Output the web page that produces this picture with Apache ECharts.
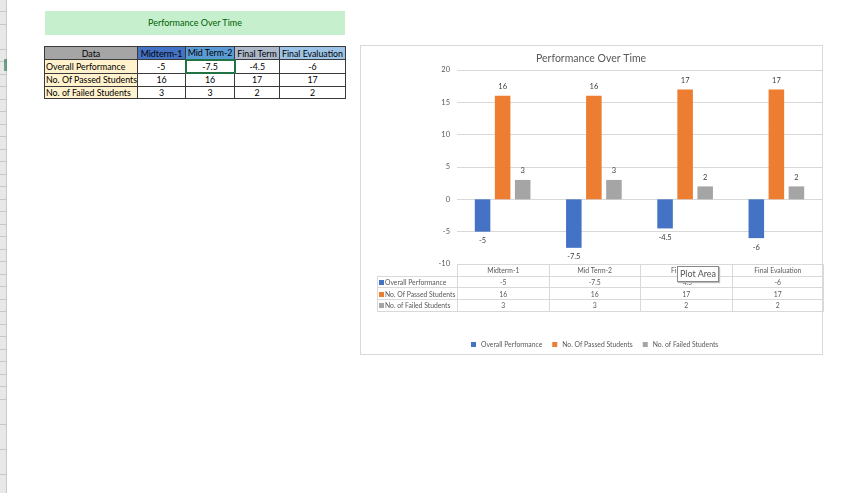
<!DOCTYPE html>
<html><head><meta charset="utf-8">
<script src="https://cdn.jsdelivr.net/npm/echarts/dist/echarts.min.js"></script>
<style>
body{margin:0;width:860px;height:493px;overflow:hidden;background:#fff;font-family:Lato,'Open Sans',sans-serif;position:relative;}
#strip{position:absolute;left:0;top:0;width:6px;height:493px;background:repeating-linear-gradient(to bottom,#e8e8e8 0,#e8e8e8 11.5px,#c8c8c8 11.5px,#c8c8c8 12.5px);border-right:1px solid #c8c8c8;}
#active{position:absolute;left:4px;top:59px;width:3px;height:12px;background:#217346;opacity:.6}
#titlebox{position:absolute;left:45px;top:11px;width:300px;height:24px;background:#c6efce;color:#006100;font-size:9px;line-height:24px;text-align:center;}
#sheet{position:absolute;left:44px;top:46px;border-collapse:collapse;font-size:8.8px;color:#000;table-layout:fixed;width:301px;}
#sheet td{border:1px solid #3a3a3a;height:11.5px;padding:0;line-height:11px;text-align:center;white-space:nowrap;overflow:hidden;}
#sheet td.lab{background:#fff2cc;text-align:left;padding-left:1px;}
#chartbox{position:absolute;left:360px;top:45px;width:463px;height:310px;border:1px solid #d9d9d9;box-sizing:border-box;}
#chart{position:absolute;left:0;top:0;width:860px;height:493px;z-index:1;}
#dtable{position:absolute;left:377px;top:264px;width:446px;border-collapse:collapse;font-size:6.8px;color:#595959;z-index:2;table-layout:fixed;}
#dtable td{border:1px solid #d9d9d9;height:10.7px;padding:0;line-height:10px;text-align:center;white-space:nowrap;overflow:hidden;}
#dtable td.lab{text-align:left;padding-left:1px;}
#dtable td.blank{border-top:none;border-left:none;}
.key{display:inline-block;width:5px;height:5px;margin-right:1px;vertical-align:0px;}
#tip{position:absolute;left:677px;top:266px;width:40px;height:14px;border:1px solid #8a8a8a;background:#fff;font-size:9px;color:#555;line-height:14px;text-align:center;z-index:3;box-shadow:1px 1px 1px #bbb;}
</style></head>
<body>
<div id="strip"></div><div id="active"></div>
<div id="titlebox">Performance Over Time</div>
<table id="sheet"></table>
<div id="chartbox"></div>
<div id="chart"></div>
<table id="dtable"></table>
<div id="tip">Plot Area</div>
<script>
const categories = ['Midterm-1', 'Mid Term-2', 'Final Term', 'Final Evaluation'];
const seriesNames = ['Overall Performance', 'No. Of Passed Students', 'No. of Failed Students'];
const overall = [-5, -7.5, -4.5, -6];
const passed = [16, 16, 17, 17];
const failed = [3, 3, 2, 2];
const yMin = -10, yMax = 20, yStep = 5;
const chartTitle = 'Performance Over Time';

const values = [overall, passed, failed];
const colors = ['#4472c4', '#ed7d31', '#a5a5a5'];
const headColors = ['#a5a5a5', '#4472c4', '#5b9bd5', '#adb9ca', '#9dc3e6'];
const sheetWidths = [93, 48, 49, 45, 66];

// spreadsheet table
(function () {
  const t = document.getElementById('sheet');
  let html = '<colgroup>' + sheetWidths.map(w => '<col style="width:' + w + 'px">').join('') + '</colgroup><tr>';
  ['Data'].concat(categories).forEach((c, i) => {
    html += '<td style="background:' + headColors[i] + '">' + c + '</td>';
  });
  html += '</tr>';
  seriesNames.forEach((n, r) => {
    html += '<tr><td class="lab">' + n + '</td>';
    values[r].forEach((v, c) => {
      const sel = (r === 0 && c === 1) ? ' style="border:2px solid #217346"' : '';
      html += '<td' + sel + '>' + v + '</td>';
    });
    html += '</tr>';
  });
  t.innerHTML = html;
})();

// chart data table
(function () {
  const t = document.getElementById('dtable');
  let html = '<colgroup><col style="width:80px">' + categories.map(() => '<col style="width:91.5px">').join('') + '</colgroup>';
  html += '<tr><td class="blank"></td>';
  categories.forEach(c => { html += '<td>' + c + '</td>'; });
  html += '</tr>';
  seriesNames.forEach((n, r) => {
    html += '<tr><td class="lab"><span class="key" style="background:' + colors[r] + '"></span>' + n + '</td>';
    values[r].forEach(v => { html += '<td>' + v + '</td>'; });
    html += '</tr>';
  });
  t.innerHTML = html;
})();

const chart = echarts.init(document.getElementById('chart'));
const font = 'Lato, Open Sans, sans-serif';
chart.setOption({
  animation: false,
  title: {
    text: chartTitle, left: 531, top: 48,
    textStyle: { fontSize: 10.5, fontWeight: 'normal', color: '#595959', fontFamily: font }
  },
  legend: {
    data: seriesNames, left: 466, top: 336, itemWidth: 5, itemHeight: 5, itemGap: 10,
    icon: 'rect',
    textStyle: { fontSize: 6.8, color: '#595959', fontFamily: font }
  },
  grid: { left: 457, top: 70, width: 365, height: 194, containLabel: false },
  xAxis: {
    type: 'category', data: categories,
    axisLine: { show: false }, axisTick: { show: false }, axisLabel: { show: false }
  },
  yAxis: {
    type: 'value', min: yMin, max: yMax, interval: yStep,
    axisLine: { show: false }, axisTick: { show: false },
    axisLabel: { fontSize: 7.5, color: '#595959', margin: 7, fontFamily: font },
    splitLine: { lineStyle: { color: '#d9d9d9', width: 1 } }
  },
  series: seriesNames.map((n, i) => ({
    name: n, type: 'bar', barGap: '29%', barCategoryGap: '39%',
    itemStyle: { color: colors[i] },
    data: values[i].map(v => ({
      value: v,
      label: { position: v < 0 ? 'bottom' : 'top' }
    })),
    label: { show: true, fontSize: 7.5, color: '#404040', distance: 5, fontFamily: font }
  }))
});
</script>
</body></html>
